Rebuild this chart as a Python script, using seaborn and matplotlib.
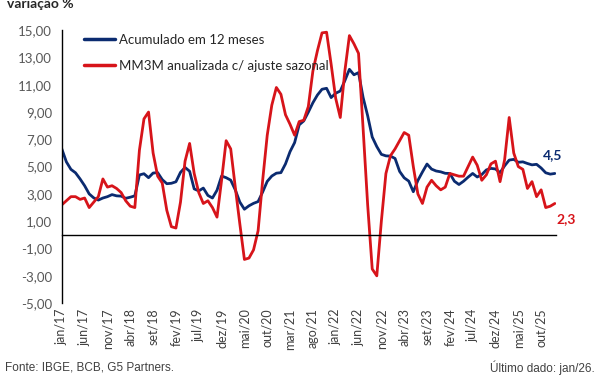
import matplotlib
matplotlib.use("Agg")
import numpy as np
import pandas as pd
import matplotlib.pyplot as plt
import seaborn as sns

# Month labels jan/17 .. jan/26
meses = ['jan', 'fev', 'mar', 'abr', 'mai', 'jun', 'jul', 'ago', 'set', 'out', 'nov', 'dez']
datas = [f"{meses[i % 12]}/{17 + i // 12}" for i in range(109)]

# Accumulated 12 months (%)
acumulado_12m = [
    6.30, 5.35, 4.80, 4.55, 4.10, 3.60, 3.00, 2.71, 2.55, 2.70, 2.80, 2.95,   # 2017
    2.86, 2.84, 2.68, 2.76, 2.86, 4.39, 4.48, 4.19, 4.53, 4.56, 4.05, 3.75,   # 2018
    3.78, 3.89, 4.58, 4.94, 4.66, 3.37, 3.22, 3.43, 2.89, 2.70, 3.27, 4.31,   # 2019
    4.19, 4.01, 3.30, 2.40, 1.88, 2.13, 2.31, 2.44, 3.14, 3.92, 4.31, 4.52,   # 2020
    4.56, 5.20, 6.10, 6.76, 8.06, 8.35, 8.99, 9.68, 10.25, 10.67, 10.74, 10.06,  # 2021
    10.38, 10.54, 11.30, 12.13, 11.73, 11.89, 10.07, 8.73, 7.17, 6.47, 5.90, 5.79,  # 2022
    5.77, 5.60, 4.65, 4.18, 3.94, 3.16, 3.99, 4.61, 5.19, 4.82, 4.68, 4.62,   # 2023
    4.51, 4.50, 3.93, 3.69, 3.93, 4.23, 4.50, 4.24, 4.42, 4.76, 4.87, 4.83,   # 2024
    4.56, 5.06, 5.48, 5.53, 5.32, 5.35, 5.23, 5.13, 5.17, 4.90, 4.55, 4.45,   # 2025
    4.50,                                                                      # jan/26
]

# 3-month moving average, annualised, seasonally adjusted (%)
mm3m_saar = [
    2.2, 2.5, 2.8, 2.8, 2.6, 2.7, 2.0, 2.4, 2.8, 4.1, 3.5, 3.6,      # 2017
    3.4, 3.1, 2.5, 2.1, 2.0, 6.2, 8.5, 9.0, 6.0, 4.3, 3.8, 1.8,      # 2018
    0.6, 0.5, 2.4, 5.4, 6.7, 4.5, 3.1, 2.3, 2.5, 2.0, 1.3, 4.0,      # 2019
    6.9, 6.3, 3.5, 0.8, -1.8, -1.7, -1.1, 0.3, 4.0, 7.3, 9.5, 10.8,  # 2020
    10.3, 8.8, 8.1, 7.3, 8.3, 8.4, 9.4, 12.0, 13.5, 14.8, 14.85, 12.5,  # 2021
    10.0, 8.6, 12.0, 14.6, 14.0, 13.3, 7.8, 2.2, -2.5, -3.0, 1.0, 4.5,  # 2022
    5.8, 6.3, 6.9, 7.5, 7.3, 5.0, 3.0, 2.3, 3.5, 4.0, 3.6, 3.3,      # 2023
    3.5, 4.5, 4.4, 4.3, 4.3, 5.0, 5.7, 5.1, 4.0, 4.4, 5.2, 5.4,      # 2024
    3.9, 5.5, 8.6, 6.0, 5.0, 4.8, 3.4, 3.9, 2.8, 3.3, 2.0, 2.1,      # 2025
    2.3,                                                              # jan/26
]

serie_azul = 'Acumulado em 12 meses'
serie_verm = 'MM3M anualizada c/ ajuste sazonal'
df = pd.DataFrame({'mes': range(len(datas)),
                   serie_azul: acumulado_12m,
                   serie_verm: mm3m_saar})

azul = '#0B2B70'
vermelho = '#D7141A'

sns.set_style('white')
plt.rcParams['font.family'] = ['Lato', 'DejaVu Sans']

fig = plt.figure(figsize=(6, 3.77), dpi=100)
ax = fig.add_axes([0.103, 0.196, 0.824, 0.724])

sns.lineplot(data=df, x='mes', y=serie_azul, color=azul, lw=2.0, label=serie_azul, ax=ax)
sns.lineplot(data=df, x='mes', y=serie_verm, color=vermelho, lw=2.0, label=serie_verm, ax=ax)

# axes
ax.set_xlim(0, 108.3)
ax.set_ylim(-5, 15)
yt = np.arange(-5, 16, 2)
ax.set_yticks(yt)
ax.set_yticklabels([f"{v:.2f}".replace('.', ',') for v in yt])
ax.set_xticks(range(0, 109, 5))
ax.set_xticklabels(datas[::5])
ax.set_xlabel('')
ax.set_ylabel('')

for s in ['top', 'right']:
    ax.spines[s].set_visible(False)
ax.spines['bottom'].set_position(('data', 0))
ax.spines['bottom'].set_color('black')
ax.spines['left'].set_color('black')
ax.spines['bottom'].set_linewidth(1.0)
ax.spines['left'].set_linewidth(1.0)

ax.tick_params(axis='y', direction='out', length=4, width=1, color='black',
               labelcolor='#595959', labelsize=9.5, pad=3)
ax.tick_params(axis='x', direction='out', length=4, width=1, color='black',
               labelcolor='#404040', labelsize=9, pad=49, labelrotation=90)

# last values
ax.annotate('4,5', xy=(108, acumulado_12m[-1]), xytext=(-1.5, 13), textcoords='offset points',
            ha='center', va='center', color=azul, fontsize=10, fontweight='bold')
ax.annotate('2,3', xy=(108, mm3m_saar[-1]), xytext=(8, -11), textcoords='offset points',
            ha='center', va='center', color=vermelho, fontsize=10, fontweight='bold',
            annotation_clip=False)

leg = ax.legend(loc='upper left', bbox_to_anchor=(0.035, 1.005), frameon=False,
                fontsize=9.5, handlelength=2.3, handletextpad=0.35, labelspacing=1.05,
                borderaxespad=0)
for t in leg.get_texts():
    t.set_color('#262626')
for h in leg.get_lines():
    h.set_linewidth(2.5)

fig.text(0.012, 0.99, 'variação %', fontsize=10, fontweight='bold', color='#262626',
         ha='left', va='center')
fig.text(0.008, 0.025, 'Fonte: IBGE, BCB, G5 Partners.', fontsize=8.5,
         family=['Liberation Sans', 'DejaVu Sans'], color='#404040', ha='left', va='center')
fig.text(0.992, 0.025, 'Último dado: jan/26.', fontsize=8.5,
         family=['Liberation Sans', 'DejaVu Sans'], color='#404040', ha='right', va='center')

fig.savefig('out.png', dpi=100)
